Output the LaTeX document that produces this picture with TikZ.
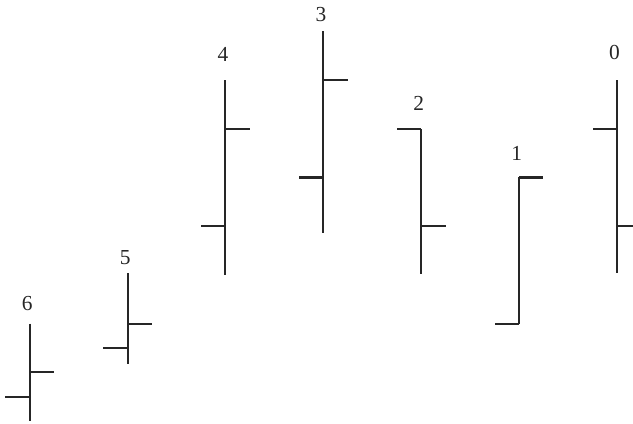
\documentclass[tikz,border=0pt]{standalone}
\usepackage{fontspec}
\setmainfont{Liberation Serif}
\usetikzlibrary{positioning}
\tikzset{
  ohlcbar/.style={line width=1.2pt,black!85},
  ohlctick/.style={line width=1.2pt,black!85},
  ohlclbl/.style={font=\fontsize{12.5}{15}\selectfont,inner sep=1pt,black!85},
}

\begin{document}
\begin{tikzpicture}
  \useasboundingbox (-0.61,-0.06) rectangle (12.39,8.645);
  % k/label/high/low/open/close/label height
  \foreach \k/\lab/\hi/\lo/\op/\cl/\ly in {
      0/6/2/0/0.5/1/2.42,
      1/5/3.03/1.17/1.5/2/3.35,
      2/4/7/3/4/6/7.52,
      3/3/8/3.86/5/7/8.34,
      4/2/6/3.02/6/4/6.53,
      5/1/5/2/2/5/5.5,
      6/0/7/3.04/6/4/7.56}{
    \coordinate (hi\lab) at (2.01*\k,\hi);
    \coordinate (lo\lab) at (2.01*\k,\lo);
    \draw[ohlcbar] (hi\lab) -- (lo\lab);
    \draw[ohlctick] (2.01*\k,\op) -- ++(-0.5,0);
    \draw[ohlctick] (2.01*\k,\cl) -- ++(0.5,0);
    \node[ohlclbl] (lbl\lab) at (2.01*\k-0.05,\ly) {\lab};
  }
\end{tikzpicture}
\end{document}
